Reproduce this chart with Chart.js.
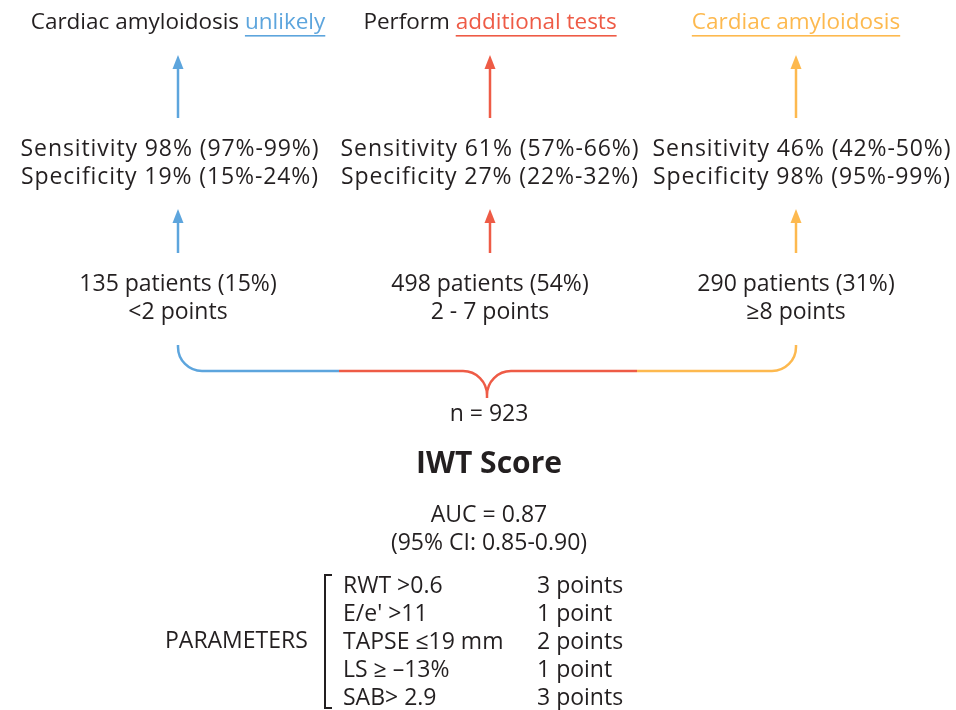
<!DOCTYPE html>
<html>
<head>
<meta charset="utf-8">
<script src="https://cdn.jsdelivr.net/npm/chart.js@4.4.1/dist/chart.umd.min.js"></script>
<style>
html,body{margin:0;padding:0;background:#fff;}
#wrap{width:956px;height:710px;position:relative;}
</style>
</head>
<body>
<div id="wrap"><canvas id="c" width="956" height="710"></canvas></div>
<script>
// ---- DATA ----
const categories = ['Cardiac amyloidosis unlikely', 'Perform additional tests', 'Cardiac amyloidosis'];
const headlinePrefix = ['Cardiac amyloidosis ', 'Perform ', ''];
const headlineEmphasis = ['unlikely', 'additional tests', 'Cardiac amyloidosis'];
const patients = [135, 498, 290];
const patientPct = [15, 54, 31];
const pointRanges = ['<2 points', '2 - 7 points', '≥8 points'];
const sensitivity = [98, 61, 46];
const sensitivityLo = [97, 57, 42];
const sensitivityHi = [99, 66, 50];
const specificity = [19, 27, 98];
const specificityLo = [15, 22, 95];
const specificityHi = [24, 32, 99];
const totalN = 923;
const scoreName = 'IWT Score';
const auc = '0.87';
const aucCI = ['0.85', '0.90'];
const parameters = ['RWT >0.6', "E/e' >11", 'TAPSE ≤19 mm', 'LS ≥ –13%', 'SAB> 2.9'];
const parameterPoints = [3, 1, 2, 1, 3];

// ---- LAYOUT / STYLE (kept apart from data) ----
const colors = ['#5DA5DD', '#EE5B46', '#FDB94F'];
const dark = '#231F20';
const FONT = '"Open Sans", "Noto Sans", sans-serif';
const colX = [178, 490, 796];
const sensX = [170, 490, 802];
const braceSplit = [339, 637];
const cuspX = 487;

const diagram = {
  id: 'diagram',
  afterDraw(chart) {
    const ctx = chart.ctx;
    const xs = chart.scales.x, ys = chart.scales.y;
    const X = v => xs.getPixelForValue(v);
    const Y = v => ys.getPixelForValue(v);
    ctx.save();
    ctx.textBaseline = 'middle';

    function text(str, x, y, font, color, align, spacing) {
      ctx.font = font; ctx.fillStyle = color; ctx.textAlign = align || 'center';
      ctx.letterSpacing = spacing || '0px';
      ctx.fillText(str, X(x), Y(y));
      ctx.letterSpacing = '0px';
    }
    function arrow(x, yTip, yTail, color) {
      ctx.strokeStyle = color; ctx.fillStyle = color; ctx.lineWidth = 2.5;
      ctx.beginPath(); ctx.moveTo(X(x), Y(yTail)); ctx.lineTo(X(x), Y(yTip + 12)); ctx.stroke();
      ctx.beginPath();
      ctx.moveTo(X(x), Y(yTip));
      ctx.lineTo(X(x - 5.5), Y(yTip + 14));
      ctx.lineTo(X(x + 5.5), Y(yTip + 14));
      ctx.closePath(); ctx.fill();
    }

    // headlines
    const hFont = '500 22.5px ' + FONT;
    ctx.font = hFont;
    categories.forEach((c, i) => {
      const pre = headlinePrefix[i], emp = headlineEmphasis[i];
      const wPre = ctx.measureText(pre).width, wEmp = ctx.measureText(emp).width;
      const left = X(colX[i]) - (wPre + wEmp) / 2;
      const y = Y(23);
      ctx.textAlign = 'left';
      ctx.fillStyle = dark; ctx.fillText(pre, left, y);
      ctx.fillStyle = colors[i]; ctx.fillText(emp, left + wPre, y);
      ctx.fillRect(left + wPre, y + 12, wEmp, 1.6);
    });

    // arrows
    colX.forEach((x, i) => {
      arrow(x, 55, 118, colors[i]);
      arrow(x, 209, 253, colors[i]);
    });

    // sensitivity / specificity
    const sFont = '500 23px ' + FONT;
    sensX.forEach((x, i) => {
      text(`Sensitivity ${sensitivity[i]}% (${sensitivityLo[i]}%-${sensitivityHi[i]}%)`, x, 149, sFont, dark, 'center', '0.9px');
      text(`Specificity ${specificity[i]}% (${specificityLo[i]}%-${specificityHi[i]}%)`, x, 177, sFont, dark, 'center', '0.9px');
    });

    // patients
    colX.forEach((x, i) => {
      text(`${patients[i]} patients (${patientPct[i]}%)`, x, 284, sFont, dark);
      text(pointRanges[i], x, 312, sFont, dark);
    });

    // brace
    const r = 24, yTop = 345, yH = 371, yCusp = 398;
    ctx.lineWidth = 2.5; ctx.lineCap = 'butt';
    ctx.strokeStyle = colors[0];
    ctx.beginPath();
    ctx.moveTo(X(colX[0]), Y(yTop));
    ctx.lineTo(X(colX[0]), Y(yH - r));
    ctx.arc(X(colX[0] + r), Y(yH - r), r, Math.PI, Math.PI / 2, true);
    ctx.lineTo(X(braceSplit[0]), Y(yH));
    ctx.stroke();
    ctx.strokeStyle = colors[1];
    ctx.beginPath();
    ctx.moveTo(X(braceSplit[0]), Y(yH));
    ctx.lineTo(X(cuspX - r), Y(yH));
    ctx.arc(X(cuspX - r), Y(yH + r), r, -Math.PI / 2, 0, false);
    ctx.lineTo(X(cuspX), Y(yCusp));
    ctx.moveTo(X(cuspX), Y(yCusp));
    ctx.lineTo(X(cuspX), Y(yH + r));
    ctx.arc(X(cuspX + r), Y(yH + r), r, Math.PI, -Math.PI / 2, false);
    ctx.lineTo(X(braceSplit[1]), Y(yH));
    ctx.stroke();
    ctx.strokeStyle = colors[2];
    ctx.beginPath();
    ctx.moveTo(X(braceSplit[1]), Y(yH));
    ctx.lineTo(X(colX[2] - r), Y(yH));
    ctx.arc(X(colX[2] - r), Y(yH - r), r, Math.PI / 2, 0, true);
    ctx.lineTo(X(colX[2]), Y(yTop));
    ctx.stroke();

    text(`n = ${totalN}`, cuspX + 2, 414, sFont, dark);
    text(scoreName, 489, 464, '700 30px ' + FONT, dark);
    text(`AUC = ${auc}`, 489, 515, sFont, dark);
    text(`(95% CI: ${aucCI[0]}-${aucCI[1]})`, 489, 543, sFont, dark);

    // parameters
    text('PARAMETERS', 165, 641, sFont, dark, 'left');
    ctx.strokeStyle = dark; ctx.lineWidth = 2;
    ctx.beginPath();
    ctx.moveTo(X(332), Y(575)); ctx.lineTo(X(325), Y(575));
    ctx.lineTo(X(325), Y(708)); ctx.lineTo(X(332), Y(708));
    ctx.stroke();
    parameters.forEach((p, i) => {
      const y = 586 + i * 28.2;
      text(p, 343, y, sFont, dark, 'left');
      text(`${parameterPoints[i]} point${parameterPoints[i] === 1 ? '' : 's'}`, 537, y, sFont, dark, 'left');
    });
    ctx.restore();
  }
};

new Chart(document.getElementById('c'), {
  type: 'scatter',
  data: {
    datasets: [{
      label: 'groups',
      data: colX.map((x, i) => ({ x: x, y: 284 })),
      pointRadius: 0,
      showLine: false
    }]
  },
  options: {
    responsive: false,
    animation: false,
    layout: { padding: 0 },
    plugins: { legend: { display: false }, tooltip: { enabled: false } },
    scales: {
      x: { type: 'linear', min: 0, max: 956, display: false },
      y: { type: 'linear', min: 0, max: 710, reverse: true, display: false }
    }
  },
  plugins: [diagram]
});
</script>
</body>
</html>
